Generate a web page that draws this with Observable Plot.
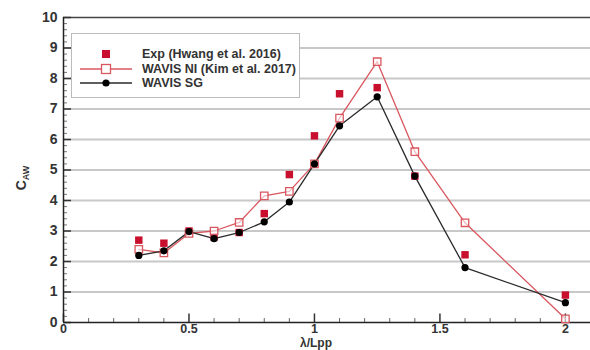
<!DOCTYPE html>
<html>
<head>
<meta charset="utf-8">
<script src="https://cdn.jsdelivr.net/npm/d3@7"></script>
<script src="https://cdn.jsdelivr.net/npm/@observablehq/plot@0.6"></script>
<style>
  body { margin: 0; background: #fff; }
  #wrap { position: relative; width: 590px; height: 350px; font-family: "Liberation Sans", Arial, sans-serif; }
  #legend { position: absolute; left: 71px; top: 33px; width: 229px; height: 65px; border: 1.5px solid #bbb; background: #fff; box-sizing: border-box; }
  .row { position: absolute; left: 6px; height: 14px; display: flex; align-items: center; }
  .row span { font-weight: bold; font-size: 12.5px; color: #333; margin-left: 8px; white-space: nowrap; }
</style>
</head>
<body>
<div id="wrap"></div>
<script>
const lambda = [0.3, 0.4, 0.5, 0.6, 0.7, 0.8, 0.9, 1.0, 1.1, 1.25, 1.4, 1.6, 2.0];
const expHwang = [2.7, 2.6, 3.0, 2.8, 2.95, 3.57, 4.85, 6.12, 7.5, 7.7, 4.8, 2.22, 0.9];
const wavisNI = [2.4, 2.28, 2.92, 3.0, 3.28, 4.15, 4.3, 5.2, 6.7, 8.55, 5.6, 3.27, 0.12];
const wavisSG = [2.2, 2.35, 2.98, 2.75, 2.95, 3.3, 3.95, 5.2, 6.45, 7.4, 4.8, 1.8, 0.65];
const xMajorTicks = [0, 0.5, 1, 1.5, 2];
const xMinorTicks = d3.range(0, 2.1, 0.1).map(v => +v.toFixed(2)).filter(v => !xMajorTicks.includes(v));
const yMajorTicks = [0, 1, 2, 3, 4, 5, 6, 7, 8, 9, 10];
const yMinorTicks = d3.range(0, 10, 0.2).map(v => +v.toFixed(2)).filter(v => !yMajorTicks.includes(v));
const legendLabels = ["Exp (Hwang et al. 2016)", "WAVIS NI (Kim et al. 2017)", "WAVIS SG"];

const red = "#c8102e", pink = "#d9575f", dark = "#2a2a2a";
const rows = (ys) => lambda.map((x, i) => ({x, y: ys[i]}));
const exp = rows(expHwang), ni = rows(wavisNI), sg = rows(wavisSG);

const chart = Plot.plot({
  width: 590, height: 350,
  marginLeft: 63, marginRight: 0, marginTop: 17, marginBottom: 28,
  style: {fontFamily: "Liberation Sans, Arial, sans-serif", background: "#fff"},
  x: {domain: [0, 2.1], ticks: xMajorTicks, tickFormat: d => String(d), tickSize: 0, label: null},
  y: {domain: [0, 10], ticks: yMajorTicks, tickSize: 0, label: null},
  marks: [
    Plot.ruleY(yMajorTicks.filter(d => d > 0 && d < 10), {stroke: "#c8c8c8", strokeWidth: 2}),
    Plot.ruleY([10], {stroke: "#444", strokeWidth: 1.5}),
    Plot.ruleX([2.1], {stroke: "#ddd", strokeWidth: 1}),
    Plot.ruleX(xMinorTicks, {y1: 0, y2: 0.13, stroke: "#666", strokeWidth: 1}),
    Plot.ruleX(xMajorTicks, {y1: 0, y2: 0.28, stroke: "#333", strokeWidth: 1.5}),
    Plot.ruleY(yMinorTicks, {x1: 0, x2: 0.016, stroke: "#777", strokeWidth: 1}),
    Plot.ruleY(yMajorTicks, {x1: 0, x2: 0.032, stroke: "#333", strokeWidth: 1.5}),
    Plot.axisY({ticks: yMajorTicks, tickSize: 0, tickPadding: 6, fontSize: 14, fontWeight: "bold", fill: "#333", label: null}),
    Plot.axisX({ticks: xMajorTicks, tickSize: 0, tickPadding: 2, fontSize: 12.5, fontWeight: "bold", fill: "#333", label: null, tickFormat: d => String(d)}),
    Plot.ruleX([0], {stroke: "#222", strokeWidth: 1.5}),
    Plot.ruleY([0], {stroke: "#222", strokeWidth: 1.5}),
    Plot.line(ni, {x: "x", y: "y", stroke: pink, strokeWidth: 1.3}),
    Plot.line(sg, {x: "x", y: "y", stroke: dark, strokeWidth: 1.3}),
    Plot.dot(exp, {x: "x", y: "y", symbol: "square", r: 4.2, fill: red, stroke: "none"}),
    Plot.dot(ni, {x: "x", y: "y", symbol: "square", r: 4.2, fill: "white", fillOpacity: 0.6, stroke: pink, strokeWidth: 1.3}),
    Plot.dot(sg, {x: "x", y: "y", r: 3.6, fill: "#000"})
  ]
});

const svg = d3.select(chart);
const yl = svg.append("text")
  .attr("transform", "translate(26,178) rotate(-90)")
  .attr("text-anchor", "middle")
  .attr("font-family", "Liberation Sans, Arial, sans-serif")
  .attr("font-weight", "bold").attr("fill", "#333").attr("font-size", 14);
yl.append("tspan").text("C");
yl.append("tspan").attr("font-size", 9).attr("dy", 3).text("AW");
svg.append("text")
  .attr("x", 316).attr("y", 347)
  .attr("text-anchor", "middle")
  .attr("font-family", "Liberation Sans, Arial, sans-serif")
  .attr("font-weight", "bold").attr("fill", "#333").attr("font-size", 12)
  .text("λ/Lpp");

const wrap = document.getElementById("wrap");
wrap.appendChild(chart);

const legend = document.createElement("div");
legend.id = "legend";
const sym = [
  `<svg width="56" height="14"><rect x="24" y="3" width="8" height="8" fill="${red}"/></svg>`,
  `<svg width="56" height="14"><line x1="2" x2="54" y1="7" y2="7" stroke="${pink}" stroke-width="1.3"/><rect x="23.5" y="2.5" width="9" height="9" fill="white" stroke="${pink}" stroke-width="1.3"/></svg>`,
  `<svg width="56" height="14"><line x1="2" x2="54" y1="7" y2="7" stroke="${dark}" stroke-width="1.3"/><circle cx="28" cy="7" r="3.6" fill="#000"/></svg>`
];
const tops = [13, 28, 42];
legendLabels.forEach((t, i) => {
  const r = document.createElement("div");
  r.className = "row";
  r.style.top = tops[i] + "px";
  r.innerHTML = sym[i] + `<span>${t}</span>`;
  legend.appendChild(r);
});
wrap.appendChild(legend);
</script>
</body>
</html>
